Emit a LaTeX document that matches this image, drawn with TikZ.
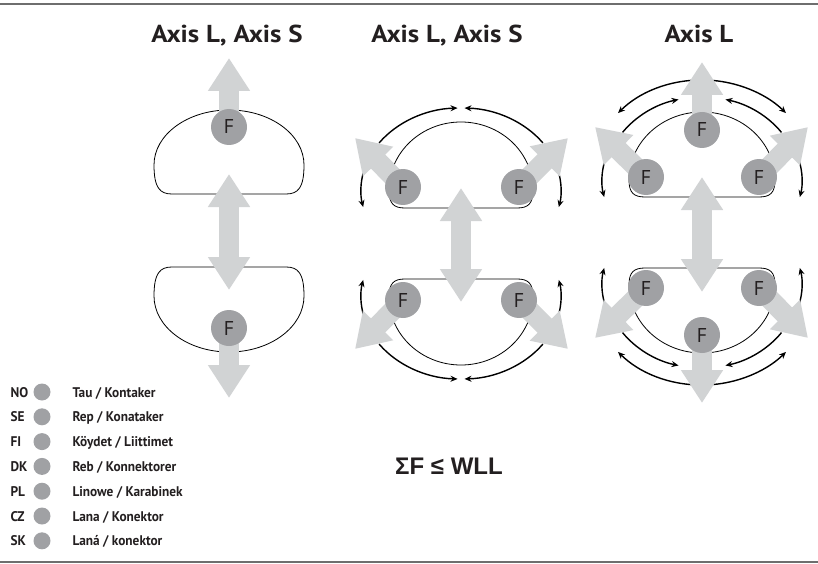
\documentclass[tikz,border=0pt]{standalone}
\usepackage{fontspec}
\setmainfont{PT Sans}
\newfontfamily\narrowfont{PT Sans}[FakeStretch=0.95]
\newfontfamily\widefont{PT Sans}[FakeStretch=1.1]
\newfontfamily\formulafont{Liberation Sans}
\usetikzlibrary{positioning,arrows.meta,calc,backgrounds}

\definecolor{arrowgray}{RGB}{209,211,212}
\definecolor{dotgray}{RGB}{160,161,164}
\definecolor{rulegray}{RGB}{110,110,110}
\definecolor{textdark}{RGB}{35,31,32}

\begin{document}
\begin{tikzpicture}[x=1pt,y=-1pt,
  force/.style={line width=20pt, draw=arrowgray, -{Triangle[width=40pt,length=33pt]}},
  force2/.style={line width=20pt, draw=arrowgray, {Triangle[width=40pt,length=33pt]}-{Triangle[width=40pt,length=33pt]}},
  fnode/.style={circle, fill=dotgray, minimum size=36pt, inner sep=0pt, font=\fontsize{20}{20}\selectfont, text=textdark},
  sling/.style={draw=black, line width=0.8pt},
  turn/.style={draw=black, line width=1.4pt, -{Stealth[length=7pt,width=6pt]}},
  turn2/.style={draw=black, line width=1.4pt, {Stealth[length=7pt,width=6pt]}-{Stealth[length=7pt,width=6pt]}},
  title/.style={anchor=base, font=\widefont\bfseries\fontsize{24.5}{24.5}\selectfont, text=textdark},
  legend/.style={anchor=base west, font=\narrowfont\bfseries\fontsize{14}{14}\selectfont, text=textdark}
]
\useasboundingbox (0,0) rectangle (818,564);
\draw[rulegray, line width=2pt] (0,4) -- (818,4);
\draw[rulegray, line width=2pt] (0,562) -- (818,562);

% titles
\node[title] (title1) at (227,43) {Axis L, Axis S};
\node[title] (title2) at (447,43) {Axis L, Axis S};
\node[title] (title3) at (699,43) {Axis L};

% F points
\node[fnode] (d1t) at (229,127) {F};
\node[fnode] (d1b) at (229,328) {F};
\node[fnode] (d2tl) at (403,187) {F};
\node[fnode] (d2tr) at (519,187) {F};
\node[fnode] (d2bl) at (403,300) {F};
\node[fnode] (d2br) at (519,300) {F};
\node[fnode] (d3t) at (702,130) {F};
\node[fnode] (d3tl) at (646,177) {F};
\node[fnode] (d3tr) at (759,177) {F};
\node[fnode] (d3b) at (702,335) {F};
\node[fnode] (d3bl) at (646,288) {F};
\node[fnode] (d3br) at (759,288) {F};

% arrow tips and arc centres
\coordinate (d1up) at (229,58);
\coordinate (d1down) at (229,398);
\coordinate (d1m1) at (229,174);
\coordinate (d1m2) at (229,290);
\coordinate (d2ul) at (355,138);
\coordinate (d2ur) at (568,138);
\coordinate (d2dl) at (355,349);
\coordinate (d2dr) at (568,349);
\coordinate (d2m1) at (461,188);
\coordinate (d2m2) at (461,302);
\coordinate (d3up) at (702,62);
\coordinate (d3down) at (702,403);
\coordinate (d3ul) at (595,127);
\coordinate (d3ur) at (808,127);
\coordinate (d3dl) at (595,338);
\coordinate (d3dr) at (808,338);
\coordinate (d3m1) at (702,177);
\coordinate (d3m2) at (702,292);
\coordinate (c2t) at (461,190);
\coordinate (c2b) at (461,297);
\coordinate (c3t) at (702,180);
\coordinate (c3b) at (702,285);

\begin{scope}[on background layer]
  % slings
  \draw[sling] (154,165) arc[start angle=180,end angle=360,x radius=75,y radius=55]
    .. controls (304,188) and (298,194) .. (286,194) -- (172,194)
    .. controls (160,194) and (154,188) .. cycle;
  \draw[sling] (172,267) -- (286,267) .. controls (298,267) and (304,273) .. (304,296)
    arc[start angle=0,end angle=180,x radius=75,y radius=56]
    .. controls (154,273) and (160,267) .. cycle;
  \draw[sling] (389,190) arc[start angle=180,end angle=360,x radius=72,y radius=68]
    .. controls (533,204) and (528,208) .. (517,208) -- (405,208)
    .. controls (394,208) and (389,204) .. cycle;
  \draw[sling] (405,279) -- (517,279) .. controls (528,279) and (533,283) .. (533,297)
    arc[start angle=0,end angle=180,x radius=72,y radius=68]
    .. controls (389,283) and (394,279) .. cycle;
  \draw[sling] (629,180) arc[start angle=180,end angle=360,x radius=73,y radius=68]
    .. controls (775,193) and (770,197) .. (759,197) -- (645,197)
    .. controls (634,197) and (629,193) .. cycle;
  \draw[sling] (645,268) -- (759,268) .. controls (770,268) and (775,272) .. (775,285)
    arc[start angle=0,end angle=180,x radius=73,y radius=68]
    .. controls (629,272) and (634,268) .. cycle;

  % turning arrows, middle
  \draw[turn] ($(c2t)+(215:100 and 82)$) arc[start angle=215,end angle=268,x radius=100,y radius=82];
  \draw[turn] ($(c2t)+(325:100 and 82)$) arc[start angle=325,end angle=272,x radius=100,y radius=82];
  \draw[turn] ($(c2t)+(194:100 and 82)$) arc[start angle=194,end angle=168,x radius=100,y radius=82];
  \draw[turn] ($(c2t)+(346:100 and 82)$) arc[start angle=346,end angle=372,x radius=100,y radius=82];
  \draw[turn] ($(c2b)+(145:100 and 82)$) arc[start angle=145,end angle=92,x radius=100,y radius=82];
  \draw[turn] ($(c2b)+(35:100 and 82)$) arc[start angle=35,end angle=88,x radius=100,y radius=82];
  \draw[turn] ($(c2b)+(166:100 and 82)$) arc[start angle=166,end angle=192,x radius=100,y radius=82];
  \draw[turn] ($(c2b)+(14:100 and 82)$) arc[start angle=14,end angle=-12,x radius=100,y radius=82];

  % turning arrows, right
  \draw[turn] ($(c3t)+(215:97 and 83)$) arc[start angle=215,end angle=256,x radius=97,y radius=83];
  \draw[turn] ($(c3t)+(325:97 and 83)$) arc[start angle=325,end angle=284,x radius=97,y radius=83];
  \draw[turn2] ($(c3t)+(222:113 and 100)$) arc[start angle=222,end angle=318,x radius=113,y radius=100];
  \draw[turn] ($(c3t)+(194:100 and 82)$) arc[start angle=194,end angle=168,x radius=100,y radius=82];
  \draw[turn] ($(c3t)+(346:100 and 82)$) arc[start angle=346,end angle=372,x radius=100,y radius=82];
  \draw[turn] ($(c3b)+(145:97 and 83)$) arc[start angle=145,end angle=104,x radius=97,y radius=83];
  \draw[turn] ($(c3b)+(35:97 and 83)$) arc[start angle=35,end angle=76,x radius=97,y radius=83];
  \draw[turn2] ($(c3b)+(138:113 and 100)$) arc[start angle=138,end angle=42,x radius=113,y radius=100];
  \draw[turn] ($(c3b)+(166:100 and 82)$) arc[start angle=166,end angle=192,x radius=100,y radius=82];
  \draw[turn] ($(c3b)+(14:100 and 82)$) arc[start angle=14,end angle=-12,x radius=100,y radius=82];

  % forces
  \draw[force] (d1t.center) -- (d1up);
  \draw[force] (d1b.center) -- (d1down);
  \draw[force2] (d1m1) -- (d1m2);
  \draw[force] (d2tl.center) -- (d2ul);
  \draw[force] (d2tr.center) -- (d2ur);
  \draw[force] (d2bl.center) -- (d2dl);
  \draw[force] (d2br.center) -- (d2dr);
  \draw[force2] (d2m1) -- (d2m2);
  \draw[force] (d3t.center) -- (d3up);
  \draw[force] (d3b.center) -- (d3down);
  \draw[force] (d3tl.center) -- (d3ul);
  \draw[force] (d3tr.center) -- (d3ur);
  \draw[force] (d3bl.center) -- (d3dl);
  \draw[force] (d3br.center) -- (d3dr);
  \draw[force2] (d3m1) -- (d3m2);
\end{scope}

% legend
\foreach \code/\name [count=\i from 0] in {NO/{Tau / Kontaker}, SE/{Rep / Konataker},
    FI/{Köydet / Liittimet}, DK/{Reb / Konnektorer}, PL/{Linowe / Karabinek},
    CZ/{Lana / Konektor}, SK/{Laná / konektor}} {
  \node[legend] (code\i) at (7,397+24.8*\i) {\code};
  \fill[dotgray] (42,392+24.8*\i) circle[radius=8.5pt];
  \node[legend] (lab\i) at (69,397+24.8*\i) {\name};
}

\node[font=\formulafont\bfseries\fontsize{24}{24}\selectfont, text=textdark] (sum) at (449,466) {ΣF ≤ WLL};
\end{tikzpicture}
\end{document}
